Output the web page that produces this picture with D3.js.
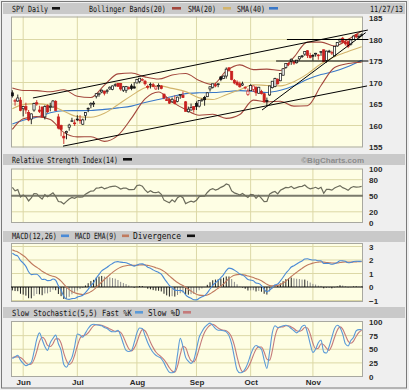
<!DOCTYPE html>
<html>
<head>
<meta charset="utf-8">
<script src="https://cdn.jsdelivr.net/npm/d3@7"></script>
<style>
  body { margin: 0; background: #fff; }
  svg { display: block; }
  .hdr { font-family: "DejaVu Sans Mono", monospace; font-size: 8.5px; fill: #111; }
  .axis text { font-family: "Liberation Sans", Arial, sans-serif; font-size: 8px; font-weight: bold; fill: #2a2a2a; }
  .brand { font-family: "Liberation Sans", Arial, sans-serif; font-size: 8px; font-weight: bold; fill: #8c8c8c; }
</style>
</head>
<body>
<svg id="chart"></svg>
<script>
// trading days from May 28 to Nov 27 2013, x is the day index
const months = ['Jun', 'Jul', 'Aug', 'Sep', 'Oct', 'Nov'];
const monthIdx = [4, 24, 46, 68, 88, 111];

const priceTicks = [155, 160, 165, 170, 175, 180, 185];
const rsiTicks = [0, 20, 50, 80, 100];
const macdTicks = [-1, 0, 1, 2, 3];
const stochTicks = [0, 25, 50, 75, 100];

const open = [
  167.6,165.8,165.7,165.9,163.9,164.4,163.0,161.5,163.6,165.3,
  163.6,164.3,162.0,164.6,164.3,164.3,165.6,162.0,160.0,157.5,
  158.3,159.6,161.0,160.6,161.5,161.3,160.3,162.3,163.9,164.8,
  165.0,166.8,167.2,167.8,168.0,167.9,168.5,168.4,169.4,169.8,
  169.8,168.2,168.2,168.8,169.2,169.0,169.9,170.2,170.7,170.3,
  169.1,169.6,169.5,168.5,169.3,169.2,167.3,166.0,166.0,165.5,
  165.8,165.6,167.1,167.0,165.5,163.2,163.6,164.4,165.1,164.5,
  165.8,166.5,166.7,168.5,168.9,169.5,169.5,171.3,170.9,171.5,
  173.4,172.6,170.5,170.1,169.7,169.4,168.9,167.2,168.1,168.4,
  168.9,167.5,167.9,167.4,165.8,167.1,168.8,169.1,170.7,170.4,
  171.7,173.5,174.4,175.0,174.8,174.6,175.5,176.0,176.6,177.4,
  176.3,176.3,176.6,176.4,177.0,177.6,175.1,177.2,176.9,176.2,
  178.5,179.6,180.3,179.4,179.5,178.9,180.0,181.2,180.7,180.9
];
const high = [
  168.2,166.2,167.2,166.6,164.5,165.3,163.6,162.8,165.3,165.9,
  164.6,164.4,164.7,164.9,165.3,165.9,165.9,162.7,160.2,158.3,
  158.8,160.4,161.8,161.4,162.4,162.4,161.6,163.1,164.2,165.4,
  165.7,167.5,167.6,168.4,168.1,168.5,169.1,169.3,169.8,169.9,
  169.9,169.2,169.2,169.1,169.7,170.1,170.8,171.0,171.0,170.6,
  169.5,170.0,169.9,169.1,169.8,169.4,167.4,166.6,166.4,166.5,
  167.0,166.7,167.3,167.9,165.7,164.4,165.1,164.5,165.6,165.9,
  166.3,166.9,167.7,169.1,169.7,169.9,169.8,171.5,171.6,173.5,
  173.6,172.7,170.8,170.5,170.2,170.2,169.1,168.6,169.6,169.3,
  169.1,169.0,168.3,167.6,166.5,169.2,170.3,171.1,171.0,172.1,
  173.3,174.4,174.7,175.6,175.1,175.2,176.1,176.4,177.2,177.5,
  176.9,176.6,176.9,176.6,177.3,177.7,177.4,177.6,177.4,178.4,
  179.4,180.1,180.6,179.8,179.8,180.0,180.9,181.3,181.2,181.4
];
const low = [
  166.5,164.6,165.5,163.3,162.1,162.7,161.0,160.3,163.2,164.6,
  162.9,161.8,161.4,162.9,163.3,164.2,163.4,159.1,157.5,155.7,
  156.8,158.8,160.8,159.9,161.0,160.4,160.1,161.2,163.1,164.0,
  164.3,166.3,166.7,167.5,167.0,167.4,168.3,168.2,169.0,169.0,
  168.1,167.8,167.6,168.3,168.2,168.6,169.8,169.8,170.3,169.3,
  168.4,168.6,168.9,168.3,168.3,168.4,166.1,165.7,165.0,165.3,
  164.9,165.4,166.2,166.4,163.2,163.0,163.5,163.0,163.6,164.2,
  165.5,164.6,166.6,167.9,168.6,168.9,168.9,170.3,170.8,170.9,
  172.5,170.5,169.6,169.2,168.8,169.2,168.4,166.9,168.1,167.8,
  166.9,167.4,167.2,165.3,164.5,166.9,168.6,168.9,169.5,170.3,
  171.6,173.2,173.8,174.1,174.1,174.4,175.1,175.7,176.2,175.7,
  175.6,175.1,176.0,175.3,176.2,174.8,174.6,176.9,176.4,176.1,
  178.3,179.2,179.1,178.6,178.0,178.6,179.9,180.3,180.2,180.7
];
const close = [
  166.9,165.8,166.4,163.5,164.4,163.6,161.3,162.7,165.1,165.0,
  163.3,162.0,164.4,163.2,164.4,165.7,163.5,159.4,159.1,157.1,
  158.6,160.1,161.1,160.4,161.4,161.2,161.3,163.0,164.0,165.1,
  165.2,167.4,167.5,168.2,167.5,168.1,168.9,169.2,169.5,169.1,
  168.5,169.0,169.1,168.6,168.6,168.7,170.7,171.0,170.7,169.7,
  168.9,169.6,169.1,169.0,169.3,168.6,166.4,165.8,165.2,166.1,
  165.1,166.6,167.2,166.5,163.3,163.8,164.2,163.7,164.4,165.8,
  166.0,166.0,167.6,169.0,169.7,169.2,169.7,170.7,171.5,173.1,
  172.8,170.7,169.9,169.5,169.0,169.7,168.9,168.0,169.3,169.2,
  167.6,168.9,167.4,165.5,165.6,169.2,170.3,170.9,169.7,172.1,
  173.2,174.4,174.3,175.4,174.5,175.2,176.0,176.2,177.2,176.3,
  175.8,176.2,176.8,176.3,177.2,174.9,177.3,177.3,177.0,178.4,
  179.3,180.1,179.4,179.0,178.4,179.9,180.8,180.6,180.7,181.1
];

// overlay lines, read every fifth day
const smaIdx = [0,4,9,14,19,24,29,34,39,44,49,54,59,64,69,74,79,84,89,94,99,104,109,114,119,124,129];
const sma20 = [163.9,164.85,165.08,164.63,163.34,162.07,161.92,162.84,164.84,166.95,168.76,169.27,168.63,167.88,166.43,166.05,167.16,168.32,169.48,169.31,169.21,170.2,172.0,174.36,176.0,177.22,178.33];
const sma40 = [160.35,161.24,161.9,162.95,163.42,163.46,163.5,163.74,164.09,164.51,165.34,166.05,166.74,167.41,167.6,167.66,167.89,168.1,167.95,167.68,168.18,169.26,170.74,171.84,172.6,173.71,175.16];
const bbUpper = [168.7,168.15,168.1,167.85,168.3,166.8,166.5,169.4,172.0,172.2,171.3,170.8,171.75,172.1,170.45,169.5,172.7,174.1,173.0,173.1,172.8,175.9,179.4,179.4,178.5,180.05,182.0];
const bbLower = [159.1,161.55,162.06,161.4,158.4,157.35,157.4,156.3,157.7,161.7,166.2,167.8,165.5,163.7,162.4,162.6,161.65,162.55,165.9,165.5,165.65,164.5,164.6,169.3,173.5,174.4,174.7];

// hand drawn trendlines: [day, price, day, price]
const trendLines = [
  [7.6, 166.4, 131.3, 182.2],
  [18.7, 155.2, 131.0, 169.2],
  [92.2, 163.6, 130.5, 181.6],
  [101.4, 180, 131.5, 180],
  [97.4, 175, 131.5, 175]
];

const rsi = [
  65.8,59.2,61.5,47.7,51.3,48.1,40.3,46.1,54.2,53.8,
  47.9,43.9,51.9,48.2,51.9,55.5,48.8,39.2,38.5,34.7,
  39.5,44.0,46.8,45.1,48.0,47.5,47.7,53.0,55.8,58.7,
  59.0,64.4,64.6,66.2,63.1,64.6,66.7,67.4,68.1,65.9,
  62.6,64.2,64.5,61.5,61.5,61.9,69.1,70.0,67.9,61.0,
  56.2,59.3,56.3,55.7,57.2,52.7,41.8,39.4,37.0,42.5,
  38.5,46.5,49.4,46.3,35.3,37.8,39.8,38.2,41.7,48.3,
  49.2,49.2,56.1,61.1,63.4,60.7,62.4,65.7,68.0,72.1,
  70.3,59.0,55.4,53.6,51.3,54.3,50.5,46.8,52.4,51.9,
  45.2,50.8,45.1,39.1,39.5,53.1,56.3,58.0,53.5,60.2,
  62.8,65.5,65.0,67.5,63.6,65.3,67.1,67.6,70.0,65.4,
  63.0,64.1,65.8,63.1,65.9,54.7,61.9,62.0,60.5,64.6,
  66.9,68.9,65.2,63.2,60.1,64.8,67.2,66.1,66.4,67.6
];

const macd = [
  2.50,2.37,2.29,1.97,1.77,1.53,1.13,0.92,0.94,0.94,
  0.79,0.56,0.57,0.47,0.48,0.59,0.50,0.09,-0.25,-0.68,
  -0.89,-0.92,-0.86,-0.85,-0.75,-0.68,-0.61,-0.41,-0.17,0.10,
  0.32,0.66,0.93,1.19,1.33,1.46,1.62,1.74,1.85,1.88,
  1.84,1.82,1.80,1.72,1.63,1.55,1.63,1.70,1.71,1.62,
  1.47,1.39,1.27,1.16,1.08,0.95,0.66,0.38,0.11,-0.03,
  -0.23,-0.26,-0.25,-0.31,-0.58,-0.74,-0.83,-0.94,-0.95,-0.84,
  -0.73,-0.64,-0.43,-0.15,0.13,0.31,0.48,0.69,0.92,1.21,
  1.40,1.36,1.25,1.12,0.96,0.88,0.75,0.56,0.51,0.46,
  0.29,0.26,0.11,-0.16,-0.36,-0.23,-0.04,0.16,0.22,0.45,
  0.72,1.02,1.24,1.48,1.58,1.70,1.83,1.93,2.07,2.09,
  2.04,2.00,2.00,1.94,1.94,1.74,1.75,1.74,1.68,1.73,
  1.82,1.94,1.95,1.90,1.80,1.82,1.89,1.91,1.90,1.91
];
const macdSignal = [
  2.75,2.67,2.60,2.47,2.33,2.17,1.96,1.76,1.59,1.46,
  1.33,1.17,1.05,0.94,0.85,0.79,0.74,0.61,0.43,0.21,
  -0.01,-0.19,-0.33,-0.43,-0.49,-0.53,-0.55,-0.52,-0.45,-0.34,
  -0.21,-0.03,0.16,0.37,0.56,0.74,0.91,1.08,1.23,1.36,
  1.46,1.53,1.58,1.61,1.62,1.60,1.61,1.63,1.64,1.64,
  1.60,1.56,1.50,1.43,1.36,1.28,1.16,1.00,0.82,0.65,
  0.48,0.33,0.21,0.11,-0.03,-0.17,-0.30,-0.43,-0.54,-0.60,
  -0.62,-0.63,-0.59,-0.50,-0.37,-0.24,-0.09,0.06,0.23,0.43,
  0.62,0.77,0.87,0.92,0.93,0.92,0.88,0.82,0.76,0.70,
  0.62,0.55,0.46,0.33,0.20,0.11,0.08,0.10,0.12,0.19,
  0.29,0.44,0.60,0.78,0.94,1.09,1.24,1.38,1.52,1.63,
  1.71,1.77,1.82,1.84,1.86,1.84,1.82,1.80,1.78,1.77,
  1.78,1.81,1.84,1.85,1.84,1.84,1.85,1.86,1.87,1.88
];
const macdHist = [
  -0.25,-0.30,-0.31,-0.50,-0.56,-0.64,-0.83,-0.84,-0.65,-0.52,
  -0.54,-0.61,-0.48,-0.47,-0.37,-0.20,-0.24,-0.52,-0.68,-0.89,
  -0.88,-0.73,-0.54,-0.42,-0.26,-0.15,-0.06,0.11,0.28,0.44,
  0.53,0.69,0.77,0.82,0.77,0.72,0.71,0.66,0.62,0.52,
  0.38,0.29,0.22,0.11,0.02,-0.05,0.02,0.07,0.07,-0.02,
  -0.13,-0.17,-0.23,-0.27,-0.28,-0.33,-0.50,-0.62,-0.71,-0.68,
  -0.71,-0.59,-0.46,-0.42,-0.55,-0.57,-0.53,-0.51,-0.42,-0.24,
  -0.11,-0.01,0.16,0.35,0.50,0.55,0.57,0.63,0.69,0.78,
  0.78,0.59,0.38,0.20,0.03,-0.04,-0.13,-0.26,-0.25,-0.24,
  -0.33,-0.29,-0.35,-0.50,-0.56,-0.34,-0.12,0.06,0.10,0.26,
  0.43,0.58,0.64,0.70,0.64,0.61,0.59,0.55,0.55,0.46,
  0.33,0.23,0.18,0.10,0.08,-0.10,-0.07,-0.06,-0.10,-0.04,
  0.04,0.13,0.11,0.05,-0.04,-0.02,0.04,0.05,0.03,0.03
];

const stochK = [
  33,36,39,30,24,20,22,26,45,68,
  80,68,55,48,62,70,76,60,48,22,
  17,26,35,55,78,76,72,80,88,94,
  96,95,94,93,90,88,84,82,82,85,
  75,60,48,46,48,62,80,89,88,75,
  62,52,44,39,36,33,25,15,8,7,
  10,40,70,55,35,28,24,30,50,72,
  82,90,95,98,94,88,85,85,84,82,
  75,60,35,12,7,8,14,25,40,52,
  57,54,50,30,15,45,80,93,90,91,
  93,94,92,88,84,80,84,92,94,80,
  60,44,50,62,67,45,43,55,72,88,
  94,90,78,60,56,66,72,84,86,86
];
const stochD = [
  35,36,36,35,31,25,22,23,31,46,
  64,72,68,57,55,60,69,69,61,43,
  29,22,26,39,56,70,75,76,80,87,
  93,95,95,94,92,90,87,85,83,83,
  81,73,61,51,47,52,63,77,86,84,
  75,63,53,45,40,36,31,24,16,10,
  8,19,40,55,53,39,29,27,35,51,
  68,81,89,94,96,93,89,86,85,84,
  80,72,57,36,18,9,10,16,26,39,
  50,54,54,45,32,30,47,73,88,91,
  91,93,93,91,88,84,83,85,90,89,
  78,61,51,52,60,58,52,48,57,72,
  85,91,87,76,65,61,65,74,81,85
];

const W = 409, H = 390;
const plotLeft = 11, plotRight = 363;
const plotBg = '#fefee4', gridColor = '#dcd8a6';

const svg = d3.select('#chart').attr('width', W).attr('height', H);

svg.append('rect').attr('width', W).attr('height', H).attr('fill', '#efefef');
svg.append('rect')
    .attr('x', 1.5).attr('y', 1.5)
    .attr('width', 405).attr('height', 386.5)
    .attr('fill', 'none').attr('stroke', '#7a7a7a');

// grey title bands above each panel
[[3, 14], [154, 165], [231, 242], [307, 318]].forEach(b => {
  svg.append('rect')
      .attr('x', 3).attr('y', b[0])
      .attr('width', 402).attr('height', b[1] - b[0])
      .attr('fill', '#c9c9c9');
});

const x = d3.scaleLinear().domain([-0.5, 129.5]).range([plotLeft, plotRight]);

let clipCount = 0;

// one chart panel: background, grid, right axis; returns the y scale and a clipped group
function makePanel(top, bottom, domain, yRange, ticks, grid) {
  const y = d3.scaleLinear().domain(domain).range(yRange);
  const g = svg.append('g');

  g.append('rect')
      .attr('x', plotLeft).attr('y', top)
      .attr('width', plotRight - plotLeft).attr('height', bottom - top)
      .attr('fill', plotBg);

  g.selectAll('.vgrid')
      .data(monthIdx)
    .join('line')
      .attr('x1', d => x(d)).attr('x2', d => x(d))
      .attr('y1', top).attr('y2', bottom)
      .attr('stroke', gridColor).attr('stroke-width', 1);

  g.selectAll('.hgrid')
      .data(grid)
    .join('line')
      .attr('x1', plotLeft).attr('x2', plotRight)
      .attr('y1', d => y(d)).attr('y2', d => y(d))
      .attr('stroke', gridColor).attr('stroke-width', 1);

  g.append('rect')
      .attr('x', plotLeft + 0.5).attr('y', top + 0.5)
      .attr('width', plotRight - plotLeft - 1).attr('height', bottom - top - 1)
      .attr('fill', 'none').attr('stroke', '#a8a8a0');

  const axis = d3.axisRight(y)
      .tickValues(ticks)
      .tickSize(0)
      .tickPadding(0)
      .tickFormat(d3.format('d'));

  svg.append('g')
      .attr('class', 'axis')
      .attr('transform', `translate(${plotRight + 6},0)`)
      .call(axis)
      .call(a => a.select('.domain').remove());

  const id = 'clip' + (clipCount++);
  svg.append('clipPath').attr('id', id)
    .append('rect')
      .attr('x', plotLeft).attr('y', top)
      .attr('width', plotRight - plotLeft).attr('height', bottom - top);

  const inner = svg.append('g').attr('clip-path', `url(#${id})`);
  return { y, inner };
}

// ---------- price panel ----------
const price = makePanel(16.5, 147.5, [155, 185], [147, 18], priceTicks, [160, 165, 170, 175, 180]);

const overlay = (vals, color) => {
  const line = d3.line()
      .x((d, i) => x(smaIdx[i]))
      .y(d => price.y(d))
      .curve(d3.curveMonotoneX);
  price.inner.append('path')
      .datum(vals)
      .attr('d', line)
      .attr('fill', 'none')
      .attr('stroke', color)
      .attr('stroke-width', 1.1);
};

overlay(sma40, '#3a78c8');
overlay(sma20, '#d2b46c');
overlay(bbUpper, '#a3473d');
overlay(bbLower, '#a3473d');

const days = d3.range(close.length);
const candleColor = i => (i > 0 && close[i] < close[i - 1]) ? '#c8201e' : '#111';

price.inner.selectAll('.wick')
    .data(days)
  .join('line')
    .attr('class', 'wick')
    .attr('x1', i => x(i)).attr('x2', i => x(i))
    .attr('y1', i => price.y(high[i])).attr('y2', i => price.y(low[i]))
    .attr('stroke', candleColor)
    .attr('stroke-width', 0.9);

price.inner.selectAll('.body')
    .data(days)
  .join('rect')
    .attr('class', 'body')
    .attr('x', i => x(i) - 1.1)
    .attr('width', 2.2)
    .attr('y', i => price.y(Math.max(open[i], close[i])))
    .attr('height', i => Math.max(0.8, Math.abs(price.y(open[i]) - price.y(close[i]))))
    .attr('fill', i => close[i] < open[i] ? candleColor(i) : '#fff')
    .attr('stroke', candleColor)
    .attr('stroke-width', 0.7);

svg.append('g').selectAll('line')
    .data(trendLines)
  .join('line')
    .attr('x1', d => x(d[0])).attr('y1', d => price.y(d[1]))
    .attr('x2', d => x(d[2])).attr('y2', d => price.y(d[3]))
    .attr('stroke', '#000')
    .attr('stroke-width', 1);

// ---------- RSI panel ----------
const rsiP = makePanel(168.5, 223, [0, 100], [222.5, 169], rsiTicks, [20, 80]);

rsiP.inner.append('line')
    .attr('x1', plotLeft).attr('x2', plotRight)
    .attr('y1', rsiP.y(50)).attr('y2', rsiP.y(50))
    .attr('stroke', '#7a7a6c').attr('stroke-width', 2);

rsiP.inner.append('path')
    .datum(rsi)
    .attr('d', d3.line().x((d, i) => x(i)).y(d => rsiP.y(d)))
    .attr('fill', 'none')
    .attr('stroke', '#6c6c5c')
    .attr('stroke-width', 1.2);

// ---------- MACD panel ----------
const macdP = makePanel(243, 302, [-1, 3], [300.5, 246.5], macdTicks, [-1, 1, 2, 3]);

macdP.inner.selectAll('.hist')
    .data(macdHist)
  .join('line')
    .attr('x1', (d, i) => x(i)).attr('x2', (d, i) => x(i))
    .attr('y1', macdP.y(0)).attr('y2', d => macdP.y(d))
    .attr('stroke', (d, i) => (i > 0 && Math.abs(d) < Math.abs(macdHist[i - 1])) ? '#8a8a8a' : '#222')
    .attr('stroke-width', 1);

macdP.inner.append('line')
    .attr('x1', plotLeft).attr('x2', plotRight)
    .attr('y1', macdP.y(0)).attr('y2', macdP.y(0))
    .attr('stroke', '#000').attr('stroke-width', 1);

const dayLine = yScale => d3.line().x((d, i) => x(i)).y(d => yScale(d)).curve(d3.curveMonotoneX);

macdP.inner.append('path')
    .datum(macdSignal)
    .attr('d', dayLine(macdP.y))
    .attr('fill', 'none').attr('stroke', '#c07a5e').attr('stroke-width', 1.1);

macdP.inner.append('path')
    .datum(macd)
    .attr('d', dayLine(macdP.y))
    .attr('fill', 'none').attr('stroke', '#4a8ad6').attr('stroke-width', 1.1);

// ---------- slow stochastic panel ----------
const stochP = makePanel(321, 377, [0, 100], [376.5, 322], stochTicks, [25, 50, 75]);

stochP.inner.append('path')
    .datum(stochD)
    .attr('d', dayLine(stochP.y))
    .attr('fill', 'none').attr('stroke', '#c47a7a').attr('stroke-width', 1.1);

stochP.inner.append('path')
    .datum(stochK)
    .attr('d', dayLine(stochP.y))
    .attr('fill', 'none').attr('stroke', '#5a9ad8').attr('stroke-width', 1.1);

svg.append('g')
    .attr('class', 'axis')
    .attr('transform', 'translate(0,377)')
    .call(d3.axisBottom(x).tickValues(monthIdx).tickSize(0).tickPadding(2).tickFormat((d, i) => months[i]))
    .call(a => a.select('.domain').remove());

// ---------- panel titles and legends ----------
// condensed mono text: squeeze horizontally to the width seen in the reference
const charW = 8.5 * 0.602;
function label(txt, x0, w, y0) {
  const sx = w / (txt.length * charW);
  svg.append('text')
      .attr('class', 'hdr')
      .attr('transform', `translate(${x0},${y0}) scale(${sx.toFixed(3)},1)`)
      .text(txt);
}
function swatch(x0, x1, y0, color) {
  svg.append('rect')
      .attr('x', x0).attr('y', y0 - 4.5)
      .attr('width', x1 - x0).attr('height', 2.6)
      .attr('fill', color);
}

label('SPY Daily', 12, 36, 11.5);
swatch(52, 60, 11.5, '#111');
label('Bollinger Bands(20)', 89, 77, 11.5);
swatch(172, 181, 11.5, '#a3473d');
label('SMA(20)', 188, 28, 11.5);
swatch(223, 231, 11.5, '#d2b46c');
label('SMA(40)', 237, 28, 11.5);
swatch(269, 278, 11.5, '#3a78c8');
label('11/27/13', 370, 33, 11.5);

label('Relative Strength Index(14)', 12, 106, 162.5);
swatch(123, 132, 162.5, '#111');
svg.append('text')
    .attr('class', 'brand')
    .attr('x', 364).attr('y', 162.5)
    .attr('text-anchor', 'end')
    .text('\u00A9BigCharts.com');

label('MACD(12,26)', 12, 45, 239);
swatch(61, 69, 239, '#4a8ad6');
label('MACD EMA(9)', 75, 42, 239);
swatch(122, 129, 239, '#c07a5e');
label('Divergence', 133, 48, 239);
swatch(187, 195, 239, '#111');

label('Slow Stochastic(5,5) Fast %K', 12, 120, 315.5);
swatch(135, 143, 315.5, '#5a9ad8');
label('Slow %D', 148, 32, 315.5);
swatch(183, 191, 315.5, '#c47a7a');
</script>
</body>
</html>
